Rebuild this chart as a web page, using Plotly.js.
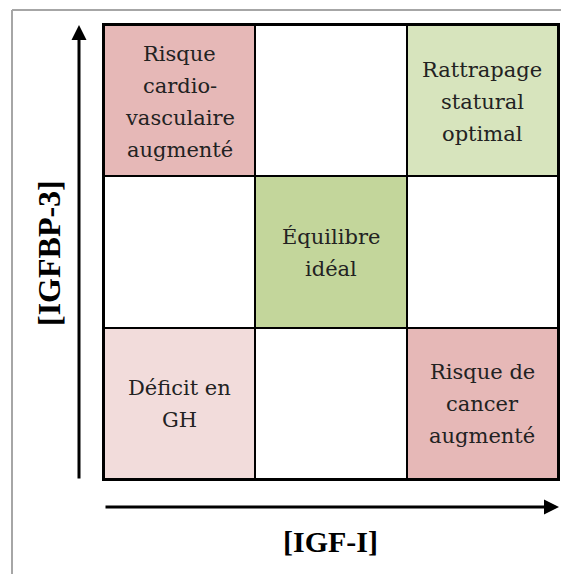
<!DOCTYPE html>
<html><head><meta charset="utf-8">
<script src="https://cdn.plot.ly/plotly-3.0.1.min.js"></script>
<style>html,body{margin:0;padding:0;background:#fff}</style>
</head><body><div id="chart" style="width:561px;height:574px"></div>
<script>
// ---- data ----
const igfLevels = ['bas', 'normal', 'élevé'];
const igfbp3Levels = ['bas', 'normal', 'élevé'];
// rows = IGFBP-3 level (bas -> élevé), columns = IGF-I level (bas -> élevé)
const zoneTypes = [
  ['deficit', 'aucun', 'risque'],
  ['aucun', 'equilibre', 'aucun'],
  ['risque', 'aucun', 'rattrapage']
];
const zoneLabels = [
  ['Déficit en<br>GH', '', 'Risque de<br>cancer<br>augmenté'],
  ['', 'Équilibre<br>idéal', ''],
  ['Risque<br>cardio-<br>vasculaire<br>augmenté', '', 'Rattrapage<br>statural<br>optimal']
];
const xAxisLabel = '[IGF-I]';
const yAxisLabel = '[IGFBP-3]';

// ---- styles ----
const zoneOrder = ['aucun', 'deficit', 'risque', 'rattrapage', 'equilibre'];
const zoneColors = ['#ffffff', '#f2dcdb', '#e6b8b7', '#d7e4bd', '#c3d69b'];
const cellFont = 'DejaVu Serif, serif';
const labelFont = 'Liberation Serif, serif';
const lineGap = 32;

const z = zoneTypes.map(row => row.map(t => zoneOrder.indexOf(t)));
const colorscale = zoneColors.map((c, i) => [i / (zoneColors.length - 1), c]);

const W = 561, H = 574, mL = 104, mR = 3, mT = 25, mB = 95;
const pw = W - mL - mR, ph = H - mT - mB;
const px = v => (v - mL) / pw;          // pixel x -> paper
const py = v => (H - mB - v) / ph;      // pixel y -> paper

const cellAnnotations = [];
igfbp3Levels.forEach((yl, r) => igfLevels.forEach((xl, c) => {
  if (!zoneLabels[r][c]) return;
  const lines = zoneLabels[r][c].split('<br>');
  const mid = (lines.length - 1) / 2;
  lines.forEach((ln, i) => {
    cellAnnotations.push({xref: 'x', yref: 'y', x: xl, y: yl, text: ln, showarrow: false,
      xanchor: 'center', yanchor: 'middle', align: 'center', yshift: (mid - i) * lineGap - 1,
      font: {family: cellFont, size: 21, color: '#222222'}});
  });
}));

const data = [
  {type: 'heatmap', x: igfLevels, y: igfbp3Levels, z: z, zmin: 0, zmax: zoneOrder.length - 1,
   colorscale: colorscale, showscale: false, xgap: 2, ygap: 2, hoverinfo: 'skip'}
];

const axisBase = {type: 'category', showticklabels: false, ticks: '', showgrid: false, zeroline: false,
  showline: true, linecolor: '#000', linewidth: 2, mirror: true, fixedrange: true, range: [-0.5, 2.5]};

const layout = {
  width: W, height: H,
  margin: {l: mL, r: mR, t: mT, b: mB, pad: 0},
  paper_bgcolor: '#fff', plot_bgcolor: '#000',
  showlegend: false,
  xaxis: Object.assign({}, axisBase),
  yaxis: Object.assign({}, axisBase),
  shapes: [
    {type: 'line', xref: 'paper', yref: 'paper', x0: px(12), x1: px(12), y0: py(574), y1: py(10),
     line: {color: '#a6a6a6', width: 2}, layer: 'above'},
    {type: 'line', xref: 'paper', yref: 'paper', x0: px(12), x1: px(561), y0: py(10), y1: py(10),
     line: {color: '#a6a6a6', width: 2}, layer: 'above'}
  ],
  annotations: cellAnnotations.concat([
    {xref: 'paper', yref: 'paper', x: px(79), y: py(25), ax: 0, ay: 455, axref: 'pixel', ayref: 'pixel',
     text: '', showarrow: true, arrowhead: 2, arrowsize: 1, arrowwidth: 3, arrowcolor: '#000', standoff: 0, startstandoff: 0},
    {xref: 'paper', yref: 'paper', x: px(559), y: py(507), ax: -455, ay: 0, axref: 'pixel', ayref: 'pixel',
     text: '', showarrow: true, arrowhead: 2, arrowsize: 1, arrowwidth: 3, arrowcolor: '#000', standoff: 0, startstandoff: 0},
    {xref: 'paper', yref: 'paper', x: px(330), y: py(541), xanchor: 'center', yanchor: 'middle',
     text: '<b>' + xAxisLabel + '</b>', showarrow: false, font: {family: labelFont, size: 30, color: '#000'}},
    {xref: 'paper', yref: 'paper', x: px(49), y: py(253), xanchor: 'center', yanchor: 'middle', textangle: -90,
     text: '<b>' + yAxisLabel + '</b>', showarrow: false, font: {family: labelFont, size: 32, color: '#000'}}
  ])
};

Plotly.newPlot('chart', data, layout, {displayModeBar: false, staticPlot: true});
</script>
</body></html>
